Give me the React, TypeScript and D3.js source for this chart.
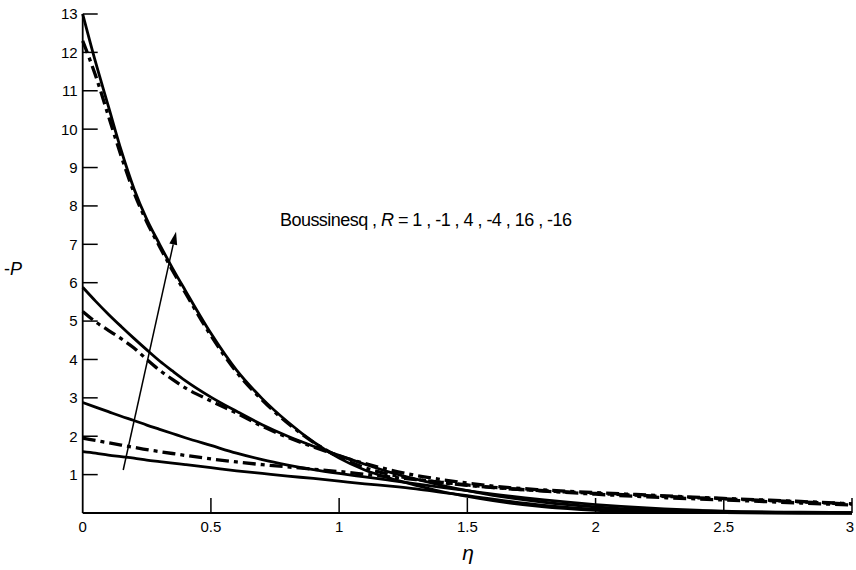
import React from "react";
import * as d3 from "d3";

// Similarity variable grid shared by every profile
const ETA = [0, 0.05, 0.1, 0.15, 0.2, 0.25, 0.3, 0.35, 0.4, 0.5, 0.6, 0.7, 0.8, 0.9, 1.0, 1.1, 1.2, 1.3, 1.4, 1.5, 1.6, 1.8, 2.0, 2.2, 2.5, 2.8, 3.0];

// -P profiles
const P_R16 = [13, 11.75, 10.6, 9.45, 8.45, 7.65, 7.0, 6.38, 5.8, 4.68, 3.72, 2.98, 2.37, 1.85, 1.43, 1.12, 0.9, 0.72, 0.56, 0.43, 0.32, 0.16, 0.07, 0.03, 0.01, 0, 0];
const P_RM16 = [12.3, 11.4, 10.35, 9.3, 8.35, 7.58, 6.94, 6.32, 5.74, 4.62, 3.67, 2.94, 2.34, 1.84, 1.46, 1.18, 1.0, 0.88, 0.79, 0.72, 0.66, 0.58, 0.51, 0.45, 0.37, 0.29, 0.23];
const P_R4 = [5.88, 5.52, 5.18, 4.86, 4.55, 4.25, 3.96, 3.7, 3.45, 3.02, 2.65, 2.3, 2.0, 1.74, 1.5, 1.27, 1.06, 0.88, 0.72, 0.58, 0.46, 0.28, 0.16, 0.08, 0.03, 0.01, 0];
const P_RM4 = [5.25, 4.98, 4.76, 4.54, 4.3, 4.0, 3.72, 3.48, 3.26, 2.92, 2.6, 2.26, 1.97, 1.72, 1.49, 1.29, 1.12, 0.98, 0.87, 0.78, 0.7, 0.6, 0.53, 0.47, 0.38, 0.3, 0.24];
const P_R1 = [2.88, 2.76, 2.64, 2.52, 2.41, 2.29, 2.18, 2.07, 1.96, 1.76, 1.56, 1.39, 1.25, 1.13, 1.03, 0.94, 0.85, 0.76, 0.67, 0.58, 0.49, 0.34, 0.22, 0.13, 0.05, 0.02, 0.01];
const P_RM1 = [1.95, 1.89, 1.83, 1.77, 1.71, 1.65, 1.6, 1.55, 1.5, 1.41, 1.33, 1.26, 1.2, 1.14, 1.08, 1.01, 0.94, 0.87, 0.8, 0.73, 0.67, 0.57, 0.49, 0.42, 0.34, 0.26, 0.21];
const P_BOUSS = [1.6, 1.56, 1.51, 1.47, 1.43, 1.38, 1.34, 1.3, 1.26, 1.18, 1.1, 1.03, 0.96, 0.9, 0.83, 0.76, 0.7, 0.63, 0.54, 0.45, 0.36, 0.2, 0.1, 0.04, 0.01, 0, 0];

const SERIES = [
  { name: "R=16", values: P_R16, dashed: false },
  { name: "R=-16", values: P_RM16, dashed: true },
  { name: "R=4", values: P_R4, dashed: false },
  { name: "R=-4", values: P_RM4, dashed: true },
  { name: "R=1", values: P_R1, dashed: false },
  { name: "R=-1", values: P_RM1, dashed: true },
  { name: "Boussinesq", values: P_BOUSS, dashed: false },
];

const X_TICKS = [0, 0.5, 1, 1.5, 2, 2.5, 3];
const X_TICK_LABELS = ["0", "0.5", "1", "1.5", "2", "2.5", "3"];
const Y_TICKS = [1, 2, 3, 4, 5, 6, 7, 8, 9, 10, 11, 12, 13];

// Arrow showing increasing |R| (data coordinates)
const ARROW_FROM = [0.158, 1.12];
const ARROW_TO = [0.364, 7.33];

export default function App() {
  const x = d3.scaleLinear().domain([0, 3]).range([82.7, 852]);
  const y = d3.scaleLinear().domain([0, 13]).range([513, 14]);

  const line = d3
    .line<number>()
    .x((_, i) => x(ETA[i]))
    .y((d) => y(d))
    .curve(d3.curveMonotoneX);

  const font = "'Liberation Sans', Arial, Helvetica, sans-serif";

  const ax0 = x(ARROW_FROM[0]);
  const ay0 = y(ARROW_FROM[1]);
  const ax1 = x(ARROW_TO[0]);
  const ay1 = y(ARROW_TO[1]);
  const ang = Math.atan2(ay1 - ay0, ax1 - ax0);
  const headLen = 13;
  const headHalf = 4;
  const bx = ax1 - headLen * Math.cos(ang);
  const by = ay1 - headLen * Math.sin(ang);
  const nx = -Math.sin(ang);
  const ny = Math.cos(ang);
  const head = `M${ax1},${ay1} L${bx + nx * headHalf},${by + ny * headHalf} L${bx - nx * headHalf},${by - ny * headHalf} Z`;

  return (
    <svg
      width={856}
      height={570}
      style={{ position: "absolute", left: 0, top: 0, background: "#fff" }}
      fontFamily={font}
    >
      <rect width={856} height={570} fill="#fff" />

      {/* axes */}
      <line x1={x(0)} y1={y(0)} x2={x(3)} y2={y(0)} stroke="#000" strokeWidth={2} />
      <line x1={x(0)} y1={y(0)} x2={x(0)} y2={y(13)} stroke="#000" strokeWidth={1.8} />

      {Y_TICKS.map((t) => (
        <g key={"y" + t}>
          <line x1={x(0)} x2={x(0) + 15} y1={y(t)} y2={y(t)} stroke="#000" strokeWidth={1.5} />
          <text x={x(0) - 5} y={y(t)} dy="0.36em" textAnchor="end" fontSize={15} fill="#000">
            {t}
          </text>
        </g>
      ))}

      {X_TICKS.map((t, i) => (
        <g key={"x" + t}>
          {t > 0 && (
            <line x1={x(t)} x2={x(t)} y1={y(0)} y2={y(0) - 15} stroke="#000" strokeWidth={1.5} />
          )}
          <text x={t === 3 ? 850 : x(t)} y={532} textAnchor="middle" fontSize={15} fill="#000">
            {X_TICK_LABELS[i]}
          </text>
        </g>
      ))}

      {/* curves */}
      {SERIES.map((s) => (
        <path
          key={s.name}
          d={line(s.values) || ""}
          fill="none"
          stroke="#000"
          strokeWidth={s.dashed ? 3.3 : 2.8}
          strokeDasharray={s.dashed ? "13,5,4,5" : undefined}
          strokeLinejoin="round"
        />
      ))}

      {/* arrow */}
      <line x1={ax0} y1={ay0} x2={bx} y2={by} stroke="#000" strokeWidth={1.5} />
      <path d={head} fill="#000" />

      {/* annotation */}
      <text x={280} y={226} fontSize={18} fill="#000" textLength={292} lengthAdjust="spacing">
        Boussinesq , <tspan fontStyle="italic">R</tspan> = 1 , -1 , 4 , -4 , 16 , -16
      </text>

      {/* axis titles */}
      <text x={4} y={275} fontSize={18} fill="#000">
        -<tspan fontStyle="italic">P</tspan>
      </text>
      <text x={468} y={560} fontSize={21} fontStyle="italic" textAnchor="middle" fill="#000">
        η
      </text>
    </svg>
  );
}
